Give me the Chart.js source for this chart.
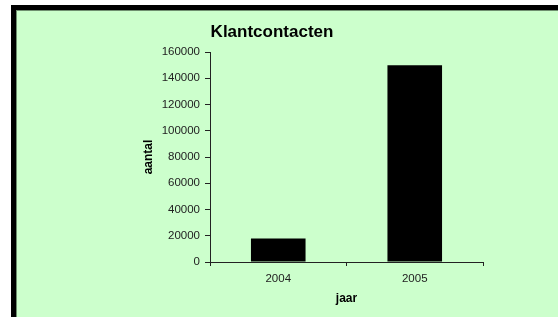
<!DOCTYPE html>
<html>
<head>
<meta charset="utf-8">
<script src="https://cdn.jsdelivr.net/npm/chart.js@4"></script>
<style>
  html, body { margin: 0; padding: 0; background: #ffffff; }
  #wrap { width: 558px; height: 317px; position: relative; }
</style>
</head>
<body>
<div id="wrap"><canvas id="c" width="558" height="317"></canvas></div>
<script>
// ---- data ----
const categories = ['2004', '2005'];
const contactValues = [18000, 150000];
const chartTitle = 'Klantcontacten';
const yAxisTitle = 'aantal';
const xAxisTitle = 'jaar';
const yMin = 0;
const yMax = 160000;
const yStep = 20000;

const FONT = '"Liberation Sans", Arial, sans-serif';

const frame = {
  id: 'frame',
  beforeDraw(chart) {
    const ctx = chart.ctx;
    const w = chart.width, h = chart.height;
    ctx.save();
    ctx.fillStyle = '#ffffff';
    ctx.fillRect(0, 0, w, h);
    ctx.fillStyle = '#000000';
    ctx.fillRect(11, 5, w - 11, h - 5);
    ctx.fillStyle = '#6f8f6f';
    ctx.fillRect(16, 10, w - 16, h - 10);
    ctx.fillStyle = '#ccffcc';
    ctx.fillRect(17, 11, w - 17, h - 11);
    ctx.restore();
  }
};

new Chart(document.getElementById('c'), {
  type: 'bar',
  data: {
    labels: categories,
    datasets: [{
      data: contactValues,
      backgroundColor: '#000000',
      borderColor: '#000000',
      borderWidth: 0,
      barPercentage: 0.4,
      categoryPercentage: 1.0
    }]
  },
  plugins: [frame],
  options: {
    responsive: false,
    animation: false,
    devicePixelRatio: 1,
    layout: { padding: { left: 61, right: 75, top: 10, bottom: 0 } },
    plugins: {
      legend: { display: false },
      tooltip: { enabled: false },
      title: {
        display: true,
        text: chartTitle,
        color: '#000000',
        font: { family: FONT, size: 17, weight: 'bold' },
        padding: { top: 12, bottom: 9.6 }
      }
    },
    scales: {
      x: {
        grid: { display: true, drawOnChartArea: false, drawTicks: true, tickLength: 4, color: '#222', offset: true },
        border: { display: true, color: '#222', width: 1 },
        ticks: { color: '#222', font: { family: FONT, size: 11.5 }, padding: 6, maxRotation: 0 },
        title: { display: true, text: xAxisTitle, color: '#000', font: { family: FONT, size: 12, weight: 'bold' }, padding: { top: 0, bottom: 11 } },
        afterFit(scale) { scale.height = 55; }
      },
      y: {
        min: yMin,
        max: yMax,
        grid: { display: true, drawOnChartArea: false, drawTicks: true, tickLength: 5, color: '#222' },
        border: { display: true, color: '#222', width: 1 },
        ticks: { stepSize: yStep, color: '#222', font: { family: FONT, size: 11.5 }, padding: 5, callback: (v) => String(v) },
        title: { display: true, text: yAxisTitle, color: '#000', font: { family: FONT, size: 12, weight: 'bold' }, padding: { top: 80.8, bottom: 0 } },
        afterFit(scale) { scale.width = 149; }
      }
    }
  }
});
</script>
</body>
</html>
